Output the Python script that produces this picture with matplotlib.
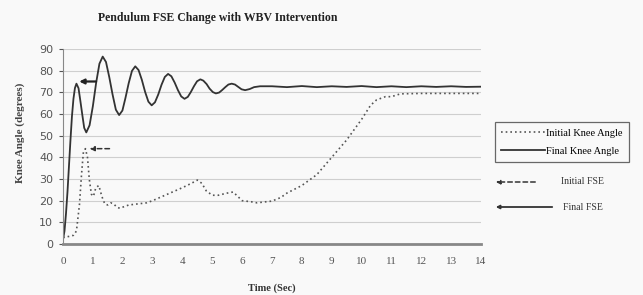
import matplotlib
matplotlib.use("Agg")
import matplotlib.pyplot as plt

# Final knee angle (solid)
final_t = [0, 0.05, 0.1, 0.15, 0.2, 0.25, 0.3, 0.35, 0.4, 0.45,
           0.52, 0.58, 0.65, 0.71, 0.78, 0.89, 1.0, 1.11, 1.22, 1.33,
           1.44, 1.55, 1.66, 1.77, 1.88, 1.99, 2.09, 2.2, 2.31, 2.42,
           2.53, 2.64, 2.75, 2.86, 2.97, 3.08, 3.19, 3.3, 3.41, 3.52,
           3.63, 3.74, 3.85, 3.96, 4.07, 4.18, 4.28, 4.39, 4.49, 4.6,
           4.7, 4.81, 4.91, 5.02, 5.12, 5.23, 5.33, 5.44, 5.54, 5.65,
           5.76, 5.87, 5.98, 6.1, 6.25, 6.4, 6.6, 7.0, 7.5, 8.0, 8.5, 9.0,
           9.5, 10.0, 10.5, 11.0, 11.5, 12.0, 12.5, 13.0, 13.5, 14.0]
final_angle = [2, 6, 14, 24, 36, 48, 59, 67, 72, 74,
               71.9, 66.2, 59.3, 53.6, 51.5, 54.8, 63.6, 74.4, 83.2, 86.5,
               84, 77, 69, 62, 59.5, 61.6, 67.3, 74.2, 79.9, 82,
               80.3, 75.8, 70.2, 65.7, 64, 65.4, 69, 73.5, 77.1, 78.5,
               77.4, 74.5, 71, 68.1, 67, 67.9, 70.1, 72.9, 75.1, 76,
               75.4, 73.8, 71.7, 70.1, 69.5, 69.9, 71.05, 72.45, 73.6, 74,
               73.6, 72.5, 71.4, 71, 71.5, 72.4, 72.8, 72.8, 72.4, 72.9, 72.4, 72.8,
               72.5, 72.9, 72.4, 72.8, 72.4, 72.8, 72.5, 72.8, 72.5, 72.6]

# Initial knee angle (dotted)
init_t = [0, 0.2, 0.35, 0.45, 0.55, 0.62, 0.68, 0.75, 0.82, 0.88, 0.95, 1.02, 1.1,
          1.2, 1.3, 1.4, 1.5, 1.6, 1.7, 1.8, 1.9, 2.0, 2.2, 2.5, 2.8, 3.0, 3.5,
          4.0, 4.3, 4.5, 4.65, 4.8, 5.0, 5.2, 5.5, 5.7, 5.85, 6.0, 6.3, 6.5, 6.8,
          7.0, 7.3, 7.5, 8.0, 8.5, 9.0, 9.5, 10.0, 10.3, 10.5, 10.8, 11.0, 11.3,
          12.0, 13.0, 14.0]
init_angle = [3, 3.5, 4, 6, 18, 32, 42, 44, 40, 30, 23, 22, 26,
              27, 22, 18.5, 18, 19, 18.5, 17, 16.5, 17, 18, 18.5, 19, 20, 23,
              26, 28, 29.5, 28, 24.5, 22.5, 22.5, 23.5, 24, 22, 20, 19.5, 19, 19.5,
              19.8, 21.5, 23.5, 27, 32, 40, 48, 57.5, 64, 66.5, 68, 68, 69.3,
              69.5, 69.5, 69.5]

# FSE markers: (start x, end x, level)
initial_fse = (1.65, 0.8, 44)
final_fse = (1.2, 0.45, 75)

x_ticks = list(range(0, 15))
y_ticks = list(range(0, 100, 10))

bg = '#f9f9f9'
serif = 'Liberation Serif'

fig = plt.figure(figsize=(6.43, 2.95), dpi=100, facecolor=bg)
ax = fig.add_axes([63 / 643, 1 - 244 / 295, (481 - 63) / 643, (244 - 49) / 295])
ax.set_facecolor(bg)

ax.plot(init_t, init_angle, color='#555555', linewidth=1.2,
        linestyle=(0, (1, 1.8)), label='Initial Knee Angle')
ax.plot(final_t, final_angle, color='#333333', linewidth=1.3,
        solid_joinstyle='round', label='Final Knee Angle')

# FSE arrows inside plot
ax.annotate('', xy=(initial_fse[1], initial_fse[2]), xytext=(initial_fse[0], initial_fse[2]),
            arrowprops=dict(arrowstyle='-|>', color='#333333', lw=1.1,
                            linestyle=(0, (3, 2)), mutation_scale=7))
ax.annotate('', xy=(final_fse[1], final_fse[2]), xytext=(final_fse[0], final_fse[2]),
            arrowprops=dict(arrowstyle='-|>', color='#222222', lw=1.6,
                            mutation_scale=7))

ax.set_xlim(0, 14)
ax.set_ylim(0, 90)
ax.set_xticks(x_ticks)
ax.set_yticks(y_ticks)
ax.grid(axis='y', color='#cfcfcf', linewidth=0.8)
ax.set_axisbelow(True)
for s in ['top', 'right']:
    ax.spines[s].set_visible(False)
ax.spines['left'].set_color('#888888')
ax.spines['bottom'].set_color('#888888')
ax.spines['bottom'].set_linewidth(2)
ax.tick_params(axis='y', labelsize=8, colors='#555555', length=3, pad=4)
ax.tick_params(axis='x', length=0, pad=9, labelcolor='#555555')
for lbl in ax.get_xticklabels():
    lbl.set_fontfamily(serif)
    lbl.set_fontsize(8)

ax.set_xlabel('Time (Sec)', fontfamily=serif, fontweight='bold', fontsize=7.5, color='#333333')
ax.xaxis.set_label_coords(0.5, -0.2)
ax.set_ylabel('Knee Angle (degrees)', fontfamily=serif, fontweight='bold', fontsize=8, color='#444444')
ax.yaxis.set_label_coords(-0.092, 0.57)

fig.text(218 / 643, 1 - 18 / 295, 'Pendulum FSE Change with WBV Intervention',
         ha='center', va='center', fontfamily=serif, fontweight='bold', fontsize=8.5, color='#222222')

leg = ax.legend(loc='upper left', bbox_to_anchor=(495 / 643, 1 - 122 / 295),
                bbox_transform=fig.transFigure, frameon=True, fancybox=False,
                prop={'family': serif, 'size': 7.5}, handlelength=4.2, handletextpad=0.1,
                borderpad=0.6, labelspacing=0.85, borderaxespad=0)
leg.get_frame().set_edgecolor('#444444')
leg.get_frame().set_facecolor(bg)
leg.get_frame().set_linewidth(0.9)

# FSE key below legend
ax.annotate('', xy=(493 / 643, 1 - 182 / 295), xytext=(538 / 643, 1 - 182 / 295),
            xycoords='figure fraction', textcoords='figure fraction',
            arrowprops=dict(arrowstyle='-|>', color='#333333', lw=1.1,
                            linestyle=(0, (3, 2)), mutation_scale=6))
fig.text(561 / 643, 1 - 182 / 295, 'Initial FSE', ha='left', va='center',
         fontfamily=serif, fontsize=7, color='#333333')
ax.annotate('', xy=(493 / 643, 1 - 207 / 295), xytext=(555 / 643, 1 - 207 / 295),
            xycoords='figure fraction', textcoords='figure fraction',
            arrowprops=dict(arrowstyle='-|>', color='#333333', lw=1.3, mutation_scale=5))
fig.text(563 / 643, 1 - 207 / 295, 'Final FSE', ha='left', va='center',
         fontfamily=serif, fontsize=7, color='#333333')

fig.savefig('out.png', dpi=100, facecolor=bg)
